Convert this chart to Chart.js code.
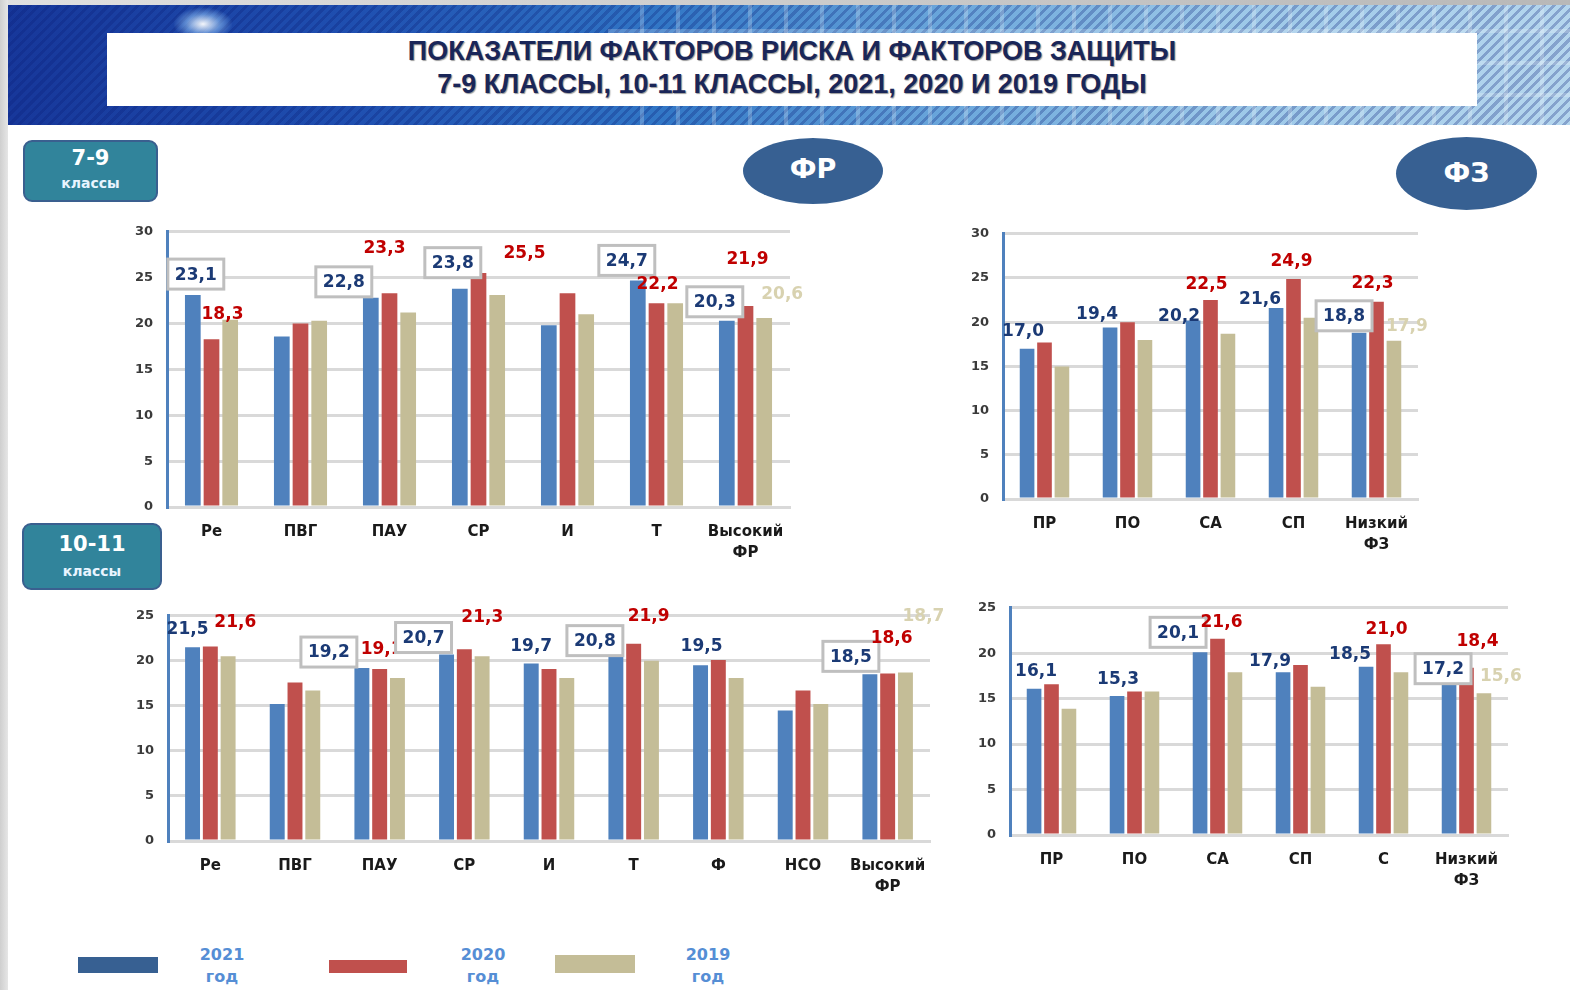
<!DOCTYPE html>
<html lang="ru">
<head>
<meta charset="utf-8">
<script src="https://cdn.jsdelivr.net/npm/chart.js@4.4.0/dist/chart.umd.min.js"></script>
<style>
  body { margin: 0; width: 1570px; height: 990px; background: #fff; position: relative; overflow: hidden; font-family: "DejaVu Sans", sans-serif; }
  .edge-left { position: absolute; left: 0; top: 0; width: 8px; height: 990px; background: linear-gradient(90deg, #cfcfcf, #e6e6e6); }
  .edge-top { position: absolute; left: 0; top: 0; width: 1570px; height: 5px; background: linear-gradient(90deg, #e0e0e0, #b8b8b8); }
  .banner { position: absolute; left: 8px; top: 5px; width: 1562px; height: 120px; overflow: hidden;
    background:
      repeating-linear-gradient(135deg, rgba(10,30,120,0.28) 0 3px, rgba(255,255,255,0) 3px 7px),
      linear-gradient(90deg, #17379a 0%, #1f4fb0 22%, #3277c6 42%, #6aa6db 60%, #9cc8e8 78%, #b5d6ee 100%); }
  .banner .grid { position: absolute; left: 600px; top: 0; width: 962px; height: 120px;
    background:
      repeating-linear-gradient(90deg, rgba(255,255,255,0) 0 32px, rgba(255,255,255,0.22) 32px 36px),
      repeating-linear-gradient(0deg, rgba(255,255,255,0) 0 28px, rgba(255,255,255,0.2) 28px 32px); }
  .banner .flare { position: absolute; left: 165px; top: 2px; width: 60px; height: 34px; border-radius: 50%;
    background: radial-gradient(ellipse at center, rgba(255,255,255,0.95) 0%, rgba(160,210,255,0.5) 40%, rgba(255,255,255,0) 70%); }
  .title { position: absolute; left: 107px; top: 33px; width: 1370px; height: 73px; background: #fff;
    text-align: center; color: #1a2658; font: bold 27px "Liberation Sans", sans-serif; line-height: 33px;
    text-shadow: 1px 1px 1px #9a9a9a; padding-top: 2px; box-sizing: border-box; }
  .badge { position: absolute; background: #31849b; border: 2px solid #3a5f8f; border-radius: 9px; color: #fff; text-align: center; box-sizing: border-box; }
  .badge .big { font: bold 21px "DejaVu Sans", sans-serif; }
  .badge .small { font: bold 14px "DejaVu Sans", sans-serif; color: #e8f4ff; }
  .oval { position: absolute; background: #376092; border-radius: 50%; color: #fff; font: bold 27px "DejaVu Sans", sans-serif; text-align: center; }
  .box { position: absolute; }
  .legend-swatch { position: absolute; }
  .legend-text { position: absolute; width: 80px; text-align: center; color: #558ed5; font: bold 16px "DejaVu Sans", sans-serif; line-height: 22px; }
</style>
</head>
<body>
<div class="edge-top"></div>
<div class="banner"><div class="grid"></div><div class="flare"></div></div>
<div class="edge-left"></div>
<div class="title">ПОКАЗАТЕЛИ ФАКТОРОВ РИСКА И ФАКТОРОВ ЗАЩИТЫ<br>7-9 КЛАССЫ, 10-11 КЛАССЫ, 2021, 2020 И 2019 ГОДЫ</div>

<div class="badge" style="left:23px;top:140px;width:135px;height:62px;">
  <div class="big" style="margin-top:3px;line-height:26px;">7-9</div>
  <div class="small" style="line-height:24px;">классы</div>
</div>
<div class="badge" style="left:22px;top:523px;width:140px;height:67px;">
  <div class="big" style="margin-top:5px;line-height:28px;">10-11</div>
  <div class="small" style="line-height:26px;">классы</div>
</div>
<div class="oval" style="left:743px;top:138px;width:140px;height:66px;line-height:62px;">ФР</div>
<div class="oval" style="left:1396px;top:137px;width:141px;height:73px;line-height:72px;">ФЗ</div>

<div class="box" style="left:127px;top:210px;width:693px;height:357px;"><canvas id="c1"></canvas></div>
<div class="box" style="left:963px;top:212px;width:485px;height:347px;"><canvas id="c2"></canvas></div>
<div class="box" style="left:128px;top:594px;width:822px;height:307px;"><canvas id="c3"></canvas></div>
<div class="box" style="left:970px;top:586px;width:568px;height:309px;"><canvas id="c4"></canvas></div>

<div class="legend-swatch" style="left:78px;top:957px;width:80px;height:16px;background:#376092;"></div>
<div class="legend-text" style="left:182px;top:944px;">2021<br>год</div>
<div class="legend-swatch" style="left:329px;top:960px;width:78px;height:13px;background:#c0504d;"></div>
<div class="legend-text" style="left:443px;top:944px;">2020<br>год</div>
<div class="legend-swatch" style="left:555px;top:955px;width:80px;height:18px;background:#c4bd97;"></div>
<div class="legend-text" style="left:668px;top:944px;">2019<br>год</div>

<script>
// ---- data ----
const years = ['2021 год', '2020 год', '2019 год'];

const fr79Categories = ['Ре', 'ПВГ', 'ПАУ', 'СР', 'И', 'Т', ['Высокий', 'ФР']];
const fr79_2021 = [23.1, 18.6, 22.8, 23.8, 19.8, 24.7, 20.3];
const fr79_2020 = [18.3, 20.0, 23.3, 25.5, 23.3, 22.2, 21.9];
const fr79_2019 = [20.4, 20.3, 21.2, 23.1, 21.0, 22.2, 20.6];

const fz79Categories = ['ПР', 'ПО', 'СА', 'СП', ['Низкий', 'ФЗ']];
const fz79_2021 = [17.0, 19.4, 20.2, 21.6, 18.8];
const fz79_2020 = [17.7, 20.0, 22.5, 24.9, 22.3];
const fz79_2019 = [15.0, 18.0, 18.7, 20.5, 17.9];

const fr1011Categories = ['Ре', 'ПВГ', 'ПАУ', 'СР', 'И', 'Т', 'Ф', 'НСО', ['Высокий', 'ФР']];
const fr1011_2021 = [21.5, 15.2, 19.2, 20.7, 19.7, 20.8, 19.5, 14.5, 18.5];
const fr1011_2020 = [21.6, 17.6, 19.1, 21.3, 19.1, 21.9, 20.1, 16.7, 18.6];
const fr1011_2019 = [20.5, 16.7, 18.1, 20.5, 18.1, 20.0, 18.1, 15.2, 18.7];

const fz1011Categories = ['ПР', 'ПО', 'СА', 'СП', 'С', ['Низкий', 'ФЗ']];
const fz1011_2021 = [16.1, 15.3, 20.1, 17.9, 18.5, 17.2];
const fz1011_2020 = [16.6, 15.8, 21.6, 18.7, 21.0, 18.4];
const fz1011_2019 = [13.9, 15.8, 17.9, 16.3, 17.9, 15.6];

// which values carry a label, and where it sits (ds, index, dx, dy from bar top, boxed)
const fr79Labels = [
  [0, 0, 3, -21, 1], [1, 0, 11, -26], [0, 2, -27, -16, 1], [1, 2, -5, -46],
  [0, 3, -7, -26, 1], [1, 3, 46, -21], [0, 5, -11, -20, 1], [1, 5, 1, -20],
  [0, 6, -12, -19, 1], [1, 6, 2, -48], [2, 6, 18, -24]
];
const fz79Labels = [
  [0, 0, -4, -18], [0, 1, -13, -14], [0, 2, -14, -5], [0, 3, -16, -9], [0, 4, -15, -17, 1],
  [1, 2, -4, -17], [1, 3, -2, -18], [1, 4, -4, -19], [2, 4, 13, -15]
];
const fr1011Labels = [
  [0, 0, -5, -19], [1, 0, 25, -25], [0, 2, -33, -16, 1], [1, 2, 2, -20],
  [0, 3, -23, -17, 1], [1, 3, 18, -33], [0, 4, 0, -18], [0, 5, -21, -13, 1],
  [1, 5, 15, -28], [0, 6, 1, -20], [0, 8, -19, -18, 1], [1, 8, 4, -36], [2, 8, 18, -57]
];
const fz1011Labels = [
  [0, 0, 2, -18], [0, 1, 1, -17], [0, 2, -22, -20, 1], [1, 2, 4, -17],
  [0, 3, -13, -12], [0, 4, -16, -13], [1, 4, 3, -16], [0, 5, -6, -10, 1],
  [1, 5, 11, -27], [2, 5, 17, -18]
];

const barColors = ['#4f81bd', '#c0504d', '#c4bd97'];
const labelColors = ['#1b3a75', '#c00000', '#d8d2b0'];

const valueLabels = {
  id: 'valueLabels',
  afterDatasetsDraw(chart, args, opts) {
    const ctx = chart.ctx;
    ctx.save();
    ctx.font = 'bold 17px "DejaVu Sans"';
    ctx.textAlign = 'center';
    ctx.textBaseline = 'middle';
    opts.items.forEach(([ds, i, dx, dy, boxed]) => {
      const bar = chart.getDatasetMeta(ds).data[i];
      const text = chart.data.datasets[ds].data[i].toFixed(1).replace('.', ',');
      const x = bar.x + dx, y = bar.y + dy;
      if (boxed) {
        const w = ctx.measureText(text).width + 14;
        ctx.fillStyle = '#fff';
        ctx.fillRect(x - w / 2, y - 15, w, 30);
        ctx.strokeStyle = '#bfbfbf';
        ctx.lineWidth = 3;
        ctx.strokeRect(x - w / 2, y - 15, w, 30);
      }
      ctx.fillStyle = labelColors[ds];
      ctx.fillText(text, x, y + 1);
    });
    ctx.restore();
  }
};

function makeChart(id, categories, series, max, items, padRight) {
  new Chart(document.getElementById(id), {
    type: 'bar',
    data: {
      labels: categories,
      datasets: series.map((d, k) => ({
        label: years[k],
        data: d,
        backgroundColor: barColors[k],
        categoryPercentage: 0.63,
        barPercentage: 0.84
      }))
    },
    options: {
      responsive: true,
      maintainAspectRatio: false,
      animation: false,
      layout: { padding: { top: 20, right: padRight, left: 0, bottom: 0 } },
      plugins: { legend: { display: false }, tooltip: { enabled: false }, valueLabels: { items } },
      scales: {
        x: {
          grid: { display: false },
          border: { color: '#d9d9d9', width: 3 },
          ticks: { color: '#1a1a1a', font: { family: 'DejaVu Sans', size: 15, weight: 'bold', lineHeight: 1.4 }, padding: 7, maxRotation: 0, autoSkip: false },
          afterFit(s) { s.height = 60; }
        },
        y: {
          min: 0, max: max,
          ticks: { stepSize: 5, color: '#3a3a3a', font: { family: 'DejaVu Sans', size: 13, weight: 'bold' }, padding: 14 },
          grid: { color: '#d9d9d9', lineWidth: 3, drawTicks: false },
          border: { color: '#4f81bd', width: 3 },
          afterFit(s) { s.width = 40; }
        }
      }
    },
    plugins: [valueLabels]
  });
}

makeChart('c1', fr79Categories, [fr79_2021, fr79_2020, fr79_2019], 30, fr79Labels, 30);
makeChart('c2', fz79Categories, [fz79_2021, fz79_2020, fz79_2019], 30, fz79Labels, 30);
makeChart('c3', fr1011Categories, [fr1011_2021, fr1011_2020, fr1011_2019], 25, fr1011Labels, 20);
makeChart('c4', fz1011Categories, [fz1011_2021, fz1011_2020, fz1011_2019], 25, fz1011Labels, 30);
</script>
</body>
</html>
